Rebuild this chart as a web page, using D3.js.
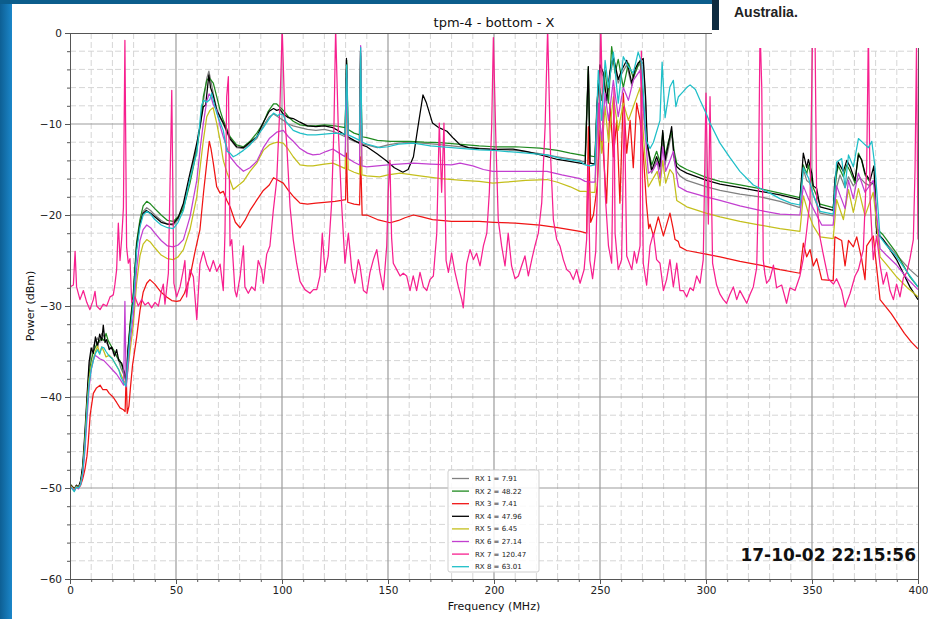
<!DOCTYPE html>
<html>
<head>
<meta charset="utf-8">
<script src="https://cdn.jsdelivr.net/npm/d3@7"></script>
<style>
  body { margin: 0; background: #fff; }
  svg { display: block; font-family: "DejaVu Sans", sans-serif; }
  .grid-major line { stroke: #9c9c9c; stroke-width: 1.2; }
  .grid-minor line { stroke: #d6d6d6; stroke-width: 1; stroke-dasharray: 6,3; }
  .axis path, .axis line { stroke: #555; }
  .axis text { font-size: 10.5px; fill: #222; font-family: "DejaVu Sans", sans-serif; }
  .trace { fill: none; stroke-width: 1.25; stroke-linejoin: round; }
</style>
</head>
<body>
<div id="chart"></div>
<script>
// frequency (MHz), power (dBm)
const rx1 = [[0,-49.7],[1,-50],[2,-50.2],[3,-49.7],[4,-50],[5,-49.4],[6,-47.8],[7,-44.5],[8,-40.5],[9,-36.8],[10,-35],[11,-34.5],[12,-33.8],[13,-33.5],[14,-34],[15,-33],[16,-33.3],[17,-34],[18.5,-34.5],[20,-34.8],[21.5,-35.3],[23,-36],[24,-36.8],[25.3,-37.5],[26.3,-38.2],[27.3,-35],[28.3,-32.2],[29.9,-28.8],[31.4,-23.3],[33,-20.8],[34.5,-19.6],[36.2,-19.2],[38,-19.5],[40,-20],[43,-20.6],[46,-21],[48.7,-21.1],[51,-20.5],[53.5,-19],[56.6,-15.8],[59.8,-12.5],[61.5,-10],[62.9,-7.6],[64.5,-5],[65.5,-4.2],[66.5,-5.3],[67.6,-6.7],[69.2,-8.3],[70.8,-9.3],[72.3,-10],[75.5,-11.7],[78.6,-12.6],[81.8,-12.7],[84.9,-12.2],[88.1,-11.6],[91.2,-10.2],[94,-9.2],[96,-8.9],[98,-9.2],[100.6,-9.6],[103,-10],[105.3,-10.2],[108.5,-10.4],[112,-10.6],[116,-10.7],[120,-10.6],[124,-10.8],[127,-11.1],[129.8,-11.4],[130.5,-3.3],[131.2,-11.6],[134,-11.9],[136.6,-12.1],[137.1,-2.5],[137.7,-12.2],[140,-12.3],[145,-12.6],[150,-12.3],[155,-12.1],[160,-12],[166,-12.1],[172,-12.2],[180,-12.4],[188,-12.6],[195,-12.7],[200,-12.8],[210,-12.9],[220,-13.2],[230,-13.6],[240.6,-14],[243,-14.2],[244.5,-4],[245.3,-14.3],[247.6,-14.4],[248.8,-8],[250,-4],[251.6,-4.8],[253.1,-7.8],[254.7,-4.6],[256.3,-3],[258.6,-5.5],[260.2,-4.5],[262.6,-3.5],[265,-5.8],[266.5,-4.4],[268,-3.6],[270.4,-3.2],[271.5,-7.5],[272.3,-12.5],[274.4,-15.4],[276.7,-14],[278.3,-15],[279.6,-11.5],[280.7,-14.5],[282.2,-12.8],[283.8,-11],[285,-14],[286.2,-15.2],[287.7,-15.7],[290.9,-16.2],[300.3,-16.9],[306.6,-17.3],[316,-17.7],[325.5,-18],[334.9,-18.5],[344.3,-19.2],[345.9,-15],[347.5,-16.2],[349,-16.5],[350.6,-17.8],[353.8,-19.8],[360,-20.1],[361.6,-17],[363.2,-15.6],[365.6,-17],[367.2,-15.8],[369.5,-16.8],[372.6,-15.9],[375,-16.5],[377.4,-16.8],[379.7,-16.2],[380.5,-21.8],[383.6,-22.7],[389.9,-24.4],[396.2,-26],[400,-26.8]];

const rx2 = [[0,-49.5],[1,-49.9],[2,-50.3],[3,-49.8],[4,-50],[5,-49.5],[6,-48],[7,-45],[8,-41],[9,-37.5],[10,-36],[11,-35],[12,-34.5],[13,-34],[14,-33.8],[15,-33.5],[16,-33.8],[17,-33],[18,-33.8],[19.7,-34.5],[21,-35],[22,-35.5],[23.5,-36],[24.4,-36.5],[25.5,-37.5],[26.5,-38.2],[27.3,-35],[28.3,-32],[29.9,-28.5],[31.4,-23],[33,-20.5],[34.5,-19],[36.2,-18.5],[38,-18.8],[40,-19.3],[43,-20],[46,-20.6],[48.7,-20.7],[51,-20.2],[53.5,-19.3],[56.6,-16.5],[59.8,-12.9],[61.5,-10],[62.9,-7],[64.5,-5.2],[65.6,-4.9],[67.6,-5.5],[69.2,-7],[70.8,-8.5],[72.3,-9.6],[75.5,-11.4],[78.6,-12.3],[81.8,-12.5],[84.9,-11.9],[88.1,-11],[91.2,-9.9],[93.5,-8.6],[96,-7.8],[97.5,-7.8],[100.6,-8.5],[103,-9.2],[105.3,-9.7],[108.5,-10.1],[112,-10.2],[116,-10.2],[120,-10.1],[125,-10.2],[129.8,-10.4],[130.5,-3],[131.2,-10.6],[134,-11],[136.6,-11.2],[137.1,-2.2],[137.7,-11.4],[140,-11.5],[145,-11.8],[151,-11.9],[160,-11.9],[167,-12],[174.5,-12.05],[183,-12.2],[193,-12.4],[200,-12.5],[210,-12.5],[221.7,-12.65],[230,-12.9],[236,-13.2],[240.6,-13.4],[243,-13.5],[244.5,-3.7],[245.3,-13.5],[247.6,-13.6],[249.2,-5.2],[250.8,-7.4],[252.4,-4.1],[254,-7.7],[255.5,-1.5],[257.1,-4.4],[258.6,-2.9],[261,-6],[263.4,-3.3],[265.7,-4.9],[268.9,-3],[271.2,-10.3],[272.8,-12.9],[274.4,-14.5],[276.7,-13],[278.3,-14.2],[279.6,-11],[280.7,-13.5],[282.2,-12],[283.8,-10.8],[285,-13],[286.2,-14.3],[287.7,-14.6],[290.9,-15],[300.3,-15.9],[306.6,-16.3],[316,-16.7],[325.5,-17.1],[334.9,-17.6],[344.3,-18.1],[345.9,-14.5],[347.5,-15.5],[348.3,-14.5],[350.6,-17],[353.8,-18.8],[360,-19.2],[361.6,-15.5],[362.4,-14.6],[364.8,-15.8],[366.4,-14.5],[368,-15.2],[370.3,-16.5],[371.9,-13.2],[373.4,-14],[375,-15.6],[377.4,-16.4],[379.7,-16.7],[380.5,-21.5],[383.6,-22.2],[389.9,-24.2],[396.2,-26.8],[400,-27.9]];

const rx3 = [[0,-49.6],[1,-50],[2,-50.3],[3,-49.8],[4,-50],[5,-49.7],[6,-49],[7,-48],[8,-46.5],[8.6,-45],[9.5,-42],[11,-39.6],[12.5,-39],[14.2,-38.7],[15.5,-39.2],[17.3,-39.2],[18.5,-39.6],[20.3,-40],[22,-40.6],[23.6,-41.2],[25.2,-41.4],[26,-41.6],[26.5,-37.5],[27,-41.8],[27.8,-41],[28.5,-39],[29.5,-36.5],[31.4,-33.5],[33,-30.5],[34.5,-28.5],[36.2,-27.5],[37.7,-27.1],[40,-27.6],[43,-28.5],[45.6,-29],[48,-29.4],[50.3,-29.5],[52,-29.4],[54,-28.6],[56.6,-26.8],[59,-24],[61.3,-21.6],[63,-17.5],[64.5,-14.3],[65.7,-11.9],[66.5,-12.7],[67.6,-14.3],[69.2,-16.9],[70.8,-17.6],[72.3,-17.4],[74,-18.4],[75.5,-19.1],[78,-20.8],[80.2,-21.4],[82.5,-20.6],[84.9,-19.5],[88,-18.4],[91.2,-17.3],[94,-16.7],[96,-15.9],[97.5,-16.1],[100.6,-16.5],[103,-17.3],[105.5,-18],[108.5,-18.7],[112,-18.8],[116,-18.7],[120,-18.6],[125,-18.5],[128,-18.4],[130,-18.3],[130.4,-13.2],[131,-18.6],[134,-18.8],[136.6,-18.9],[137.1,-13.6],[137.8,-20],[140,-20],[145,-20.5],[151,-20.85],[155,-20.6],[158,-20.3],[162,-20],[166,-20.2],[171,-20.5],[180,-20.7],[193,-20.7],[200,-20.8],[210,-20.9],[221.7,-21.1],[230,-21.4],[240.6,-21.8],[243.7,-22],[244.5,-10.3],[245.6,-20.8],[246.9,-20],[248.7,-16.8],[250,-10.7],[251.6,-13.2],[253.1,-18.7],[254.7,-7.7],[256.3,-13.6],[257.9,-9.6],[259.4,-18.7],[261,-6.6],[262.6,-13.2],[264.2,-9.6],[265.7,-14.8],[267.3,-7.7],[268.9,-9.6],[270.4,-13.2],[271.9,-18.7],[273,-21.5],[273.6,-21],[275.2,-22.3],[277.5,-20.2],[279.9,-22.3],[281.5,-21],[283,-19.8],[284.5,-21.5],[285.4,-22.7],[286.9,-22.9],[287.7,-23.5],[290.9,-23.9],[300,-24.3],[306.6,-24.6],[316,-25.1],[325.5,-25.5],[334.9,-26],[344.3,-26.4],[345.9,-23.1],[347.5,-24.6],[349.1,-23.8],[350.6,-25.6],[352.2,-24.8],[354.6,-27.1],[360,-27.2],[360.8,-22.4],[364,-22.8],[365.6,-25.6],[367.2,-22.8],[369.5,-23.5],[371.1,-22.4],[373.4,-24.8],[375,-27.1],[375.8,-23.4],[378.9,-22.3],[382.1,-29.3],[387.3,-30.8],[393.6,-33],[397,-34],[400,-34.7]];

const rx4 = [[0,-49.6],[1,-49.8],[2,-50.1],[3,-49.7],[4,-49.9],[5,-49.2],[6,-47.5],[7,-44],[8,-40],[9,-36.2],[10,-34.6],[11,-35.2],[12,-33.4],[13,-34.5],[14,-33.1],[15,-33.8],[15.7,-32.1],[16.5,-34],[17.3,-33.7],[18.5,-34.8],[19.7,-34.5],[21,-35.5],[22,-34.8],[23,-36],[24.4,-36.3],[25.3,-37],[26,-37.5],[26.6,-38.5],[27.3,-35],[28.3,-32.5],[29.9,-29],[31.4,-23.5],[33,-21],[34.5,-19.8],[36,-19.5],[38,-19.8],[40,-20.2],[43,-20.8],[46,-21],[48.5,-21],[51,-20.3],[53.5,-18.7],[56.6,-15.4],[58,-14],[59.8,-12.1],[61.5,-10],[62.9,-8.1],[64,-7.9],[65.5,-4.6],[66.3,-6],[67.6,-6.9],[69.2,-8.5],[71,-9.3],[72.3,-9.9],[75.5,-11.6],[78.6,-12.5],[81.8,-12.6],[84.9,-12],[88.1,-11.4],[91.2,-9.8],[94,-8.6],[96,-8.3],[97.5,-8.5],[99,-8.4],[100.6,-8.9],[103,-9.3],[105.3,-9.4],[108.5,-9.8],[112,-10.2],[116,-10.3],[120,-10.2],[124,-10.4],[127,-10.8],[129.8,-11.2],[130.4,-2.8],[131,-11.4],[134,-11.8],[136.5,-12.1],[137,-2],[137.6,-12.3],[140,-12.5],[145,-13.3],[149.5,-14.1],[153,-14.8],[157,-15.3],[159.5,-15],[162,-13.6],[164,-10.5],[166.5,-6.8],[168,-7.6],[171,-9.9],[174,-10.4],[177.8,-10.8],[181,-11.6],[184,-12.3],[188,-12.6],[193,-12.7],[200,-12.8],[209,-12.75],[215,-13],[222,-13.4],[230,-13.9],[240.6,-14.3],[243,-14.4],[244.5,-3.7],[245.3,-14.3],[247.6,-14.4],[248.5,-8],[250,-3.5],[251.6,-4.4],[253.1,-7.4],[254.7,-4.2],[256.3,-2.6],[258.6,-5.1],[260.2,-4.1],[262.6,-3],[265,-5.5],[266.5,-4],[268,-3.3],[270.4,-2.8],[271.5,-7],[272.3,-12.1],[274.4,-15.1],[276.7,-13.6],[278.3,-14.7],[279.6,-10.7],[280.7,-14],[282.2,-12.3],[283.8,-10.3],[284.9,-13.5],[286.2,-14.7],[287.7,-15],[290.9,-15.4],[300.3,-16.2],[306.6,-16.6],[316,-17],[325.5,-17.4],[334.9,-17.8],[344.3,-18.3],[345.9,-13.2],[347.5,-14.8],[348.3,-13.9],[349.9,-15.4],[350.6,-16.8],[352.2,-17.1],[353.8,-19.1],[360,-19.5],[360.8,-16],[362.4,-14.2],[364.8,-15.2],[366.4,-14],[368,-14.7],[370.3,-16.2],[371.9,-13.4],[373.4,-13.9],[375,-15.4],[377.4,-16.2],[379.2,-14.6],[380.5,-22],[383.6,-22.7],[389.9,-24.9],[396.2,-27.9],[400,-29.3]];

const rx5 = [[0,-49.7],[1,-49.9],[2,-50.2],[3,-49.8],[4,-50],[5,-49.5],[6,-48.2],[7,-45],[8,-41],[9,-38],[10,-36.6],[11,-35.8],[12,-35],[13,-34.4],[14,-35.2],[15,-34.5],[16,-35],[17,-35.6],[18.5,-35.4],[20,-35.8],[21.5,-36.4],[23,-37],[24,-37.5],[25.5,-38.3],[26.3,-38.5],[27.3,-37],[28.3,-35],[29.9,-32],[31.4,-27.5],[33,-24.5],[34.5,-23.2],[36.2,-22.7],[38,-23],[40,-23.6],[43,-24.4],[46,-24.8],[48.7,-24.9],[51,-24.6],[53.5,-23.8],[56.6,-21.6],[59.8,-18],[61.5,-14.5],[62.9,-11.8],[64.5,-9.2],[66,-8.5],[67.5,-8.2],[69.2,-9.9],[70.8,-11.8],[72.3,-14],[74,-15.3],[75.5,-16.2],[77,-17.2],[78.6,-16.9],[81.8,-16.3],[84.9,-15.2],[88.1,-14.3],[91.2,-12.9],[94,-12.3],[96,-12.1],[98,-12],[100.6,-12.1],[103,-12.8],[105.3,-13.6],[108.5,-14.5],[112,-14.6],[114.6,-14.6],[120,-14.4],[124,-14.3],[127,-14.6],[129.8,-14.9],[130.5,-5],[131.2,-15],[134,-15.3],[136.6,-15.5],[137.1,-3],[137.7,-15.6],[140,-15.7],[146,-15.8],[150,-15.6],[155.7,-15.4],[165,-15.7],[175,-16],[185,-16.2],[193,-16.3],[199.5,-16.5],[205,-16.4],[215,-16.2],[225,-16.1],[230,-16.4],[236,-16.9],[240.6,-17.4],[243,-17.4],[246,-17.5],[247.6,-17.5],[249.2,-8.1],[250.8,-13.2],[252.4,-8.1],[254,-12],[256.3,-7],[258.6,-10.7],[261,-7.7],[263.4,-9.6],[265.7,-8.1],[268.9,-6],[271.2,-13.6],[272.8,-16.9],[275,-16],[277,-15.2],[278.3,-16.8],[279.6,-14],[281,-16.5],[283,-15],[284.6,-15.5],[286.2,-18.4],[290.9,-19.1],[300,-19.8],[306.6,-20.2],[316,-20.7],[325.5,-21.1],[334.9,-21.5],[344.3,-21.8],[345.9,-17.9],[348.3,-19.8],[350.6,-21.2],[353.8,-22.4],[360,-22.6],[361.6,-18.3],[364.8,-20.5],[367.2,-17.2],[369.5,-19.7],[371.9,-17.1],[375,-20.1],[378.9,-17.5],[382.1,-24.6],[385,-25.4],[389.9,-26.8],[395,-28],[400,-29]];

const rx6 = [[0,-49.8],[1,-50],[2,-50.3],[3,-49.9],[4,-50.1],[5,-49.6],[6,-48.5],[7,-46],[8,-42.5],[9,-39],[10,-37],[11,-36],[11.8,-35.4],[13,-35.6],[14,-35.8],[16,-36],[18,-36.5],[20,-37],[22,-37.5],[24,-38.2],[25.3,-38.7],[25.9,-29.5],[26.5,-38.9],[27.3,-37],[28.3,-34],[29.9,-31],[31.4,-26],[33,-22.8],[34.5,-21.6],[36.2,-21.1],[38,-21.4],[40,-22],[43,-22.8],[46,-23.4],[48.7,-23.5],[51,-23.3],[53.5,-22.7],[56.6,-20.2],[59.8,-16.2],[61.5,-12.5],[62.9,-9.9],[64.5,-7.5],[65.6,-6.7],[66.5,-7],[67.6,-7.9],[69.2,-8.5],[70.8,-10.2],[72.3,-11.4],[75.5,-13.6],[78.6,-14.5],[81.8,-15.2],[84.9,-14.8],[88.1,-14.1],[91.2,-12.6],[94,-11.6],[96,-11.2],[97.5,-10.9],[100.6,-10.7],[103,-11.4],[105.3,-11.9],[108.5,-12.7],[112,-13.2],[114.6,-13.4],[118,-13.3],[121,-13],[124,-12.75],[127,-13.2],[129.8,-13.6],[130.5,-4],[131.2,-13.8],[134,-14.2],[136.6,-14.5],[137.1,-1.4],[137.7,-14.6],[140,-14.7],[145,-14.6],[150,-14.5],[155,-14.4],[162,-14.3],[170,-14.4],[180,-14.5],[184,-14.3],[190,-14.6],[195,-15],[199.5,-15.2],[210,-15.2],[225,-15.2],[232,-15.6],[240.6,-16],[243,-16.3],[246,-16.4],[247.6,-16.4],[249.2,-7.7],[250.8,-11.8],[252.4,-6.6],[254,-9.6],[256.3,-5.2],[258.6,-9.2],[261,-6],[263.4,-7.4],[265.7,-5.2],[268.9,-4.1],[271.2,-10.7],[272.8,-15.4],[275.2,-15],[277,-14.2],[278.3,-16],[279.6,-12.5],[281,-15.2],[283,-14],[284.6,-13],[286.2,-15.8],[287,-16.9],[290.9,-17.4],[300,-18],[306.6,-18.4],[316,-19],[325.5,-19.5],[334.9,-19.9],[344.3,-20],[345.9,-16.8],[348.3,-18.2],[350.6,-19.3],[354.6,-21.1],[360,-21.1],[361.6,-16.8],[365.6,-19.3],[367.2,-16.2],[369.5,-18.2],[371.9,-15.4],[375,-17.5],[378.9,-16.2],[382.1,-23.7],[385,-24.4],[389.9,-25.5],[395,-27],[400,-28.2]];

const rx7 = [[0,-27.9],[1.6,-27.7],[2.4,-24],[3.1,-27.9],[4.7,-29.3],[6.3,-28.3],[7.9,-29.6],[9.4,-30.4],[11,-29.3],[11.8,-28.4],[12.6,-30],[14.2,-30.4],[15.7,-29.8],[17.3,-30],[18.9,-29],[20.4,-28.8],[21.2,-27.6],[22,-26],[22.8,-20.9],[23.6,-25],[24.4,-22.5],[25.2,-19.2],[25.9,-0.8],[26.7,-23.5],[27.5,-25.3],[28.3,-24.8],[29.1,-29.6],[30.7,-29],[32.2,-30],[33.8,-29.3],[35.4,-29.9],[36.9,-29.6],[38.5,-30.2],[40.1,-29.6],[41.7,-30],[43,-28.5],[44,-27.6],[44.8,-29.8],[46.4,-26.4],[48,-6.3],[49,-27.5],[50.3,-29],[51.9,-27.9],[53.5,-26],[54.2,-25],[55,-29],[56.6,-26],[58.2,-26.8],[59.8,-31.5],[61.3,-25.4],[62.9,-24],[64.5,-25.4],[66,-26.2],[67.6,-25],[69.2,-26.2],[70.8,-25.4],[72.3,-28.3],[73.1,-22],[73.9,-7],[74.7,-4.8],[75.5,-23.4],[76.3,-22.7],[77.8,-28.3],[78.6,-29],[80.2,-26.8],[81.8,-23.4],[82.5,-27.9],[84.1,-28.6],[85.7,-27.9],[87.3,-28.3],[88.8,-25],[90.4,-26],[91.2,-27.5],[92.8,-24.3],[94.3,-23.4],[95.9,-19.5],[97.5,-16.2],[99.1,-7.5],[100.1,0.5],[101.4,-9.7],[102.2,-12.1],[103.8,-19.1],[105.3,-22.7],[106.9,-25.3],[108.5,-27.3],[110.8,-28.2],[113.2,-28.6],[114.8,-28.2],[116.4,-28.2],[117.9,-26.7],[119,-22],[120.3,-26.3],[121.8,-24.5],[123.4,-18.7],[124.5,-10.3],[125.3,0.5],[126.6,-10.9],[128.1,-18.7],[129.7,-25.3],[131.3,-22],[132.9,-26],[134.4,-27.5],[136,-24.9],[136.8,-25.6],[138.4,-28.3],[140,-28.6],[141.5,-26.3],[143.1,-24.9],[144.7,-23.8],[146.2,-26.3],[147.8,-28.2],[149.4,-23.4],[150.1,-17.5],[150.9,-14],[151.7,-22.5],[152.5,-25.3],[154.1,-26],[155.7,-26.7],[157.2,-26.4],[158.8,-26.7],[160.4,-28.3],[161.9,-26.7],[163.5,-28.3],[165.1,-26.3],[166.7,-27.9],[168.3,-28.3],[169.8,-27.1],[171.4,-26.7],[173,-22],[174.2,-9.9],[175.3,-17.5],[176.4,-9.9],[177.4,-25],[178.5,-26.3],[180,-24.2],[181.6,-26.3],[183.2,-27.9],[184.8,-29.3],[185.5,-30.2],[187.1,-25.4],[188.7,-23.8],[190.3,-24.9],[191.8,-24.2],[193.4,-25.6],[195,-23.4],[196.6,-22],[197.8,-17.5],[198.9,-10.3],[199.7,-0.5],[200.9,-11.9],[202,-20.5],[203.6,-23.4],[205.2,-25.6],[206.7,-22],[208.3,-25.6],[209.9,-27],[211.5,-26.7],[213,-25.6],[214.6,-24.5],[216.2,-26.7],[217.8,-24.9],[219.3,-23.4],[220.9,-22],[222.5,-18.7],[224.1,-10.3],[225.3,0.5],[226.7,-13.6],[228,-20.5],[229.6,-22.7],[231.1,-23.4],[232.7,-24.9],[234.3,-26],[235.8,-26.3],[237.4,-27.1],[239,-26],[240.6,-27.5],[242.5,-26],[243.7,-22.7],[244.4,-14.3],[245.2,-25],[246.5,-27],[248,-24],[249.3,-12],[250.4,0.5],[251.4,-10],[252.4,-17.5],[254,-23.4],[255.5,-25.3],[256.6,-6],[257.1,-22],[258.6,-26],[260.2,-24.9],[261.5,-8],[262.6,-24.5],[265,-26],[266.2,-24],[267.3,-25.3],[268.9,-23.4],[269.5,-2],[270.4,-25.3],[272,-27.7],[273.6,-23.4],[275.2,-22],[276.7,-24.9],[278.3,-25.3],[279.9,-28.3],[281.4,-27.1],[283,-24.9],[284.6,-27.9],[286.2,-25.3],[287.7,-28.3],[289.3,-28.3],[290.9,-29],[292.5,-28],[294,-28.3],[295.6,-26.7],[297.2,-27.5],[298.7,-24.9],[300,-6.6],[301.1,-21],[301.9,-7],[303.1,-25.3],[305,-27.7],[306.6,-28.7],[308.2,-29.3],[309.7,-29.7],[311.3,-28.7],[312.9,-27.9],[314.5,-29.3],[316,-28.3],[317.6,-29],[319.2,-29.7],[320.8,-28.7],[322.3,-27.9],[323.9,-25.8],[324.7,-18],[325.5,0.5],[326.3,-6],[327,-24.9],[327.8,-26.5],[328.6,-27.5],[330.2,-27],[331.8,-25.5],[333.3,-28],[335.7,-27.7],[338,-29.7],[339.6,-28],[342,-28.3],[344.3,-26.7],[345.9,-24.8],[347.5,-21.7],[349.1,-18.3],[350.3,0.5],[351.4,0.5],[352.2,-18.3],[353.8,-22.5],[355.3,-24.3],[357.7,-27],[360.1,-27.6],[361.6,-27],[364,-28.3],[365.6,-30.1],[368,-28.6],[370.3,-26.7],[371.9,-26],[374.2,-23.8],[375.8,-14.7],[376.6,0.5],[377.4,-18.3],[378.9,-24.9],[380.5,-22.3],[382.1,-25.5],[383.6,-27.6],[385.2,-26.3],[386.8,-28.3],[388.4,-29.3],[389.9,-27.6],[391.5,-29],[393.1,-26.9],[394.7,-26.3],[396.2,-24.8],[397.8,-22.7],[398.6,-15],[399.3,-1.3],[400,-22.7]];

const rx8 = [[0,-49.8],[1,-50.1],[2,-50.4],[3,-49.9],[4,-50],[5,-49.6],[6,-48.3],[7,-45.5],[8,-41.5],[9,-38.5],[10,-37],[11,-36],[12,-35.2],[13,-34.8],[14,-35.3],[15,-34.5],[16,-34.6],[17,-35],[18.5,-35.5],[20,-35.8],[21.5,-36.4],[23,-37],[24,-37.8],[25.5,-38.5],[26.3,-38.8],[27.3,-36],[28.3,-33],[29.9,-29.5],[31.4,-24],[33,-21.3],[34.5,-20],[36.2,-19.6],[38,-19.9],[40,-20.5],[43,-21.1],[46,-21.4],[48.7,-21.5],[51,-20.8],[53.5,-19.5],[56.6,-16],[59.8,-13.2],[61,-10.5],[62,-8],[63,-7.4],[64.5,-7.6],[66,-7.3],[66.8,-6.6],[67.6,-7.4],[69.2,-8.8],[70.8,-9.8],[72.3,-10.7],[74,-13],[75.5,-13.2],[77,-13.6],[78.6,-13.4],[81.8,-12.9],[84.9,-12.3],[88.1,-11.4],[91.2,-10.4],[94,-9.4],[96,-8.8],[98,-9.1],[99,-8.9],[100.6,-9],[102,-9.8],[105.3,-10.7],[108.5,-11],[112,-11.2],[116,-11.2],[120,-11.1],[125,-11],[129.8,-11.1],[130.5,-3.5],[131.2,-11.2],[134,-11.5],[136.6,-11.8],[137.1,-1.6],[137.7,-12],[140,-12.2],[146,-12.6],[150,-12.5],[155,-12.2],[162,-12.1],[170,-12.4],[180,-12.6],[193,-12.85],[200,-12.9],[210,-13.1],[225,-13.4],[232,-13.8],[240.6,-14.1],[243,-14.5],[245.5,-14.6],[247.6,-14.5],[249.2,-4.1],[250.8,-9.6],[252.4,-3],[254,-6],[256.3,-2.1],[258.6,-7.7],[261,-2.6],[263.4,-3.7],[265.7,-4.4],[268,-2.1],[269.7,-3.3],[271.2,-9.6],[272,-11.9],[273.6,-12.7],[275.2,-12],[278.3,-9.6],[279.3,-3.2],[280.7,-9.3],[283,-5.9],[284.6,-5.2],[285.8,-8.1],[287,-7],[289,-6.5],[290.9,-6],[292.5,-5.7],[295,-6.2],[297.2,-7.4],[300,-8.8],[301.9,-9.9],[306.6,-12.1],[311.3,-13.7],[316,-15.2],[322.3,-16.7],[328.6,-17.4],[334.9,-18.2],[340,-18.7],[344.3,-18.9],[345.9,-14.8],[348.3,-15.9],[350.6,-17.8],[353.8,-19.6],[360,-19.9],[361.6,-14.2],[364,-13.8],[365.6,-17],[367.2,-13.4],[369.5,-14.7],[371.9,-11.6],[374.2,-12.1],[376.6,-12.6],[378.2,-11.9],[379.7,-14.7],[382.1,-22.4],[385,-23.3],[389.9,-24.6],[395,-26.3],[400,-27.9]];

const seriesNames = ['RX 1', 'RX 2', 'RX 3', 'RX 4', 'RX 5', 'RX 6', 'RX 7', 'RX 8'];
const legendValues = [7.91, 48.22, 7.41, 47.96, 6.45, 27.14, 120.47, 63.01];
const seriesColors = ['#808080', '#1f8a1f', '#f01414', '#000000', '#c4bf1c', '#c23fd0', '#f7208f', '#1fbfc8'];
const xTicks = [0, 50, 100, 150, 200, 250, 300, 350, 400];
const yTicks = [0, -10, -20, -30, -40, -50, -60];
const timestamp = '17-10-02 22:15:56';

const W = 928;
const H = 619;
const plot = { left: 70, right: 918, top: 33, bottom: 579 };

const x = d3.scaleLinear().domain([0, 400]).range([plot.left, plot.right]);
const y = d3.scaleLinear().domain([-60, 0]).range([plot.bottom, plot.top]);

const $svg = d3.select('#chart').append('svg')
  .attr('width', W)
  .attr('height', H);

const defs = $svg.append('defs');
const grad = defs.append('linearGradient').attr('id', 'edge').attr('x1', 0).attr('x2', 1);
grad.append('stop').attr('offset', '0%').attr('stop-color', '#0d5f94');
grad.append('stop').attr('offset', '100%').attr('stop-color', '#1b86c9');
defs.append('clipPath').attr('id', 'plot-clip')
  .append('rect')
  .attr('x', plot.left).attr('y', plot.top)
  .attr('width', plot.right - plot.left).attr('height', plot.bottom - plot.top);

// page frame around the screenshot
$svg.append('rect').attr('width', W).attr('height', H).attr('fill', '#fff');
$svg.append('rect').attr('x', 0).attr('y', 0).attr('width', 12).attr('height', H).attr('fill', 'url(#edge)');
$svg.append('rect').attr('x', 0).attr('y', 0).attr('width', W).attr('height', 4).attr('fill', '#0c5d8c');

// grid
const xMinor = d3.range(0, 401, 10).filter(d => d % 50 !== 0);
const yMinor = d3.range(-60, 1, 2).filter(d => d % 10 !== 0);

const $minor = $svg.append('g').attr('class', 'grid-minor');
$minor.selectAll('.vx').data(xMinor).join('line')
  .attr('x1', d => x(d)).attr('x2', d => x(d))
  .attr('y1', plot.top).attr('y2', plot.bottom);
$minor.selectAll('.hy').data(yMinor).join('line')
  .attr('class', 'hy')
  .attr('x1', plot.left).attr('x2', plot.right)
  .attr('y1', d => y(d)).attr('y2', d => y(d));

const $major = $svg.append('g').attr('class', 'grid-major');
$major.selectAll('.vx').data(xTicks.slice(1, -1)).join('line')
  .attr('x1', d => x(d)).attr('x2', d => x(d))
  .attr('y1', plot.top).attr('y2', plot.bottom);
$major.selectAll('.hy').data(yTicks.slice(1, -1)).join('line')
  .attr('class', 'hy')
  .attr('x1', plot.left).attr('x2', plot.right)
  .attr('y1', d => y(d)).attr('y2', d => y(d));

// traces
const line = d3.line().x(d => x(d[0])).y(d => y(d[1]));
const allSeries = [rx1, rx2, rx3, rx4, rx5, rx6, rx7, rx8];

$svg.append('g').attr('clip-path', 'url(#plot-clip)')
  .selectAll('path')
  .data(allSeries)
  .join('path')
  .attr('class', 'trace')
  .attr('stroke', (d, i) => seriesColors[i])
  .attr('d', line);

// axes
const fmt = d => (d < 0 ? '\u2212' + Math.abs(d) : String(d));

$svg.append('g').attr('class', 'axis')
  .attr('transform', `translate(0,${plot.bottom})`)
  .call(d3.axisBottom(x).tickValues(xTicks).tickFormat(fmt).tickSize(5).tickPadding(3));
$svg.append('g').attr('class', 'axis')
  .attr('transform', `translate(0,${plot.bottom})`)
  .call(d3.axisBottom(x).tickValues(xMinor).tickFormat('').tickSize(3))
  .select('.domain').remove();

$svg.append('g').attr('class', 'axis')
  .attr('transform', `translate(${plot.left},0)`)
  .call(d3.axisLeft(y).tickValues(yTicks).tickFormat(fmt).tickSize(5).tickPadding(3));
$svg.append('g').attr('class', 'axis')
  .attr('transform', `translate(${plot.left},0)`)
  .call(d3.axisLeft(y).tickValues(yMinor).tickFormat('').tickSize(3))
  .select('.domain').remove();

// top and right spines
$svg.append('line').attr('x1', plot.left).attr('x2', plot.right)
  .attr('y1', plot.top + 0.5).attr('y2', plot.top + 0.5).attr('stroke', '#555');
$svg.append('line').attr('x1', plot.right + 0.5).attr('x2', plot.right + 0.5)
  .attr('y1', plot.top).attr('y2', plot.bottom).attr('stroke', '#555');

// titles
$svg.append('text')
  .attr('x', (plot.left + plot.right) / 2).attr('y', 27)
  .attr('text-anchor', 'middle')
  .style('font-size', '13px').attr('fill', '#111')
  .text('tpm-4 - bottom - X');
$svg.append('text')
  .attr('x', (plot.left + plot.right) / 2).attr('y', 610)
  .attr('text-anchor', 'middle')
  .style('font-size', '11px').attr('fill', '#111')
  .text('Frequency (MHz)');
$svg.append('text')
  .attr('transform', `translate(34,${(plot.top + plot.bottom) / 2}) rotate(-90)`)
  .attr('text-anchor', 'middle')
  .style('font-size', '11px').attr('fill', '#111')
  .text('Power (dBm)');

// legend
const $legend = $svg.append('g').attr('transform', 'translate(448,470)');
$legend.append('rect')
  .attr('width', 91).attr('height', 102).attr('rx', 2)
  .attr('fill', '#fff').attr('fill-opacity', 0.85)
  .attr('stroke', '#cfcfcf');
const $item = $legend.selectAll('.item').data(seriesNames).join('g')
  .attr('transform', (d, i) => `translate(0,${8.5 + i * 12.6})`);
$item.append('line')
  .attr('x1', 4).attr('x2', 21)
  .attr('stroke', (d, i) => seriesColors[i]).attr('stroke-width', 1.3);
$item.append('text')
  .attr('x', 27).attr('dy', '0.35em')
  .style('font-size', '7px').attr('fill', '#222')
  .text((d, i) => `${d} = ${legendValues[i].toFixed(2)}`);

// timestamp
$svg.append('text')
  .attr('x', 916).attr('y', 561)
  .attr('text-anchor', 'end')
  .style('font-size', '17px').style('font-weight', 'bold').attr('fill', '#111')
  .text(timestamp);

// overlapping page panel in the top right
$svg.append('rect').attr('x', 712).attr('y', 0).attr('width', W - 712).attr('height', 48).attr('fill', '#fff');
$svg.append('rect').attr('x', 712).attr('y', 0).attr('width', 7).attr('height', 30).attr('fill', '#0c2a40');
$svg.append('text')
  .attr('x', 734).attr('y', 17)
  .style('font-family', '"Liberation Sans", Arial, sans-serif')
  .style('font-size', '14px').style('font-weight', 'bold').attr('fill', '#222')
  .text('Australia.');
</script>
</body>
</html>
